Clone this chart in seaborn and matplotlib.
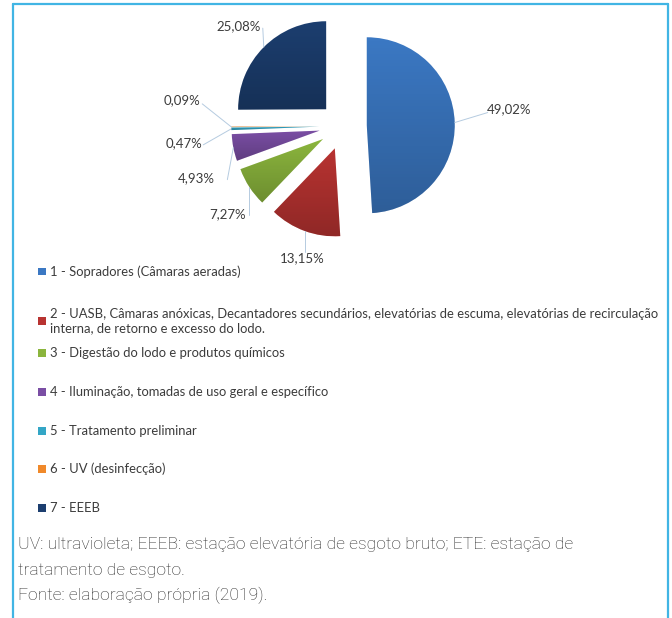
import numpy as np
import matplotlib
matplotlib.use("Agg")
import matplotlib.pyplot as plt
from matplotlib.lines import Line2D
from matplotlib.patches import Rectangle
import seaborn as sns

# ---------------- data ----------------
categories = [
    "1 - Sopradores (Câmaras aeradas)",
    "2 - UASB, Câmaras anóxicas, Decantadores secundários, elevatórias de escuma, elevatórias de recirculação\ninterna, de retorno e excesso do lodo.",
    "3 - Digestão do lodo e produtos químicos",
    "4 - Iluminação, tomadas de uso geral e específico",
    "5 - Tratamento preliminar",
    "6 - UV (desinfecção)",
    "7 - EEEB",
]
shares = [49.02, 13.15, 7.27, 4.93, 0.47, 0.09, 25.08]
share_labels = ["49,02%", "13,15%", "7,27%", "4,93%", "0,47%", "0,09%", "25,08%"]
caption_lines = [
    "UV: ultravioleta; EEEB: estação elevatória de esgoto bruto; ETE: estação de",
    "tratamento de esgoto.",
    "Fonte: elaboração própria (2019).",
]

colors = ["#3b78c3", "#b83331", "#8bb53d", "#7a4ea4", "#33a6c6", "#f0892a", "#1c3e6f"]

# ---------------- style ----------------
sns.set_theme(style="white")
plt.rcParams["font.family"] = ["Lato", "DejaVu Sans"]

W, H = 672, 618
fig = plt.figure(figsize=(W / 100, H / 100), dpi=100)
fig.patch.set_facecolor("white")

ax = fig.add_axes([0, 0, 1, 1])
R = 88
cx, cy = 343, H - 126
explode = [0.27 * R] * len(shares)

wedges, _ = ax.pie(shares, colors=colors, startangle=90, counterclock=False,
                   radius=R, center=(cx, cy), explode=explode,
                   wedgeprops=dict(linewidth=0))
ax.set_xlim(0, W)
ax.set_ylim(0, H)
ax.set_aspect("auto")
ax.axis("off")

# subtle vertical shading inside each wedge
grad = np.linspace(0, 1, 64).reshape(-1, 1)
shade = np.zeros((64, 1, 4))
shade[..., 3] = 0.22 * grad[:, 0:1]
for w in wedges:
    bb = w.get_path().get_extents(w.get_transform() - ax.transData)
    im = ax.imshow(shade, extent=(bb.x0, bb.x1, bb.y0, bb.y1), origin="upper",
                   aspect="auto", zorder=w.get_zorder() + 0.1, interpolation="bilinear")
    im.set_clip_path(w)
ax.set_xlim(0, W)
ax.set_ylim(0, H)

# label offsets (px, y down) from the mid-arc anchor: text centre and leader end
text_off = [(54, -13), (-2, 27), (-22, 27), (-37, 31), (-47, 14), (-49, -27), (-25, -21)]
line_off = [(33, -10), (0, 21), (0, 28), (-6, 32), (-28, 16), (-29, -23), (-1, -19)]
for w, lab, (tx, ty), (lx, ly) in zip(wedges, share_labels, text_off, line_off):
    th = np.deg2rad((w.theta1 + w.theta2) / 2)
    ax_, ay_ = w.center[0] + w.r * np.cos(th), w.center[1] + w.r * np.sin(th)
    ax.plot([ax_, ax_ + lx], [ay_, ay_ - ly], color="#b5cbe0", lw=0.7, zorder=1)
    ax.text(ax_ + tx, ay_ - ty, lab, ha="center", va="center", fontsize=9.5,
            color="#3c3c3c")

# legend (manual rows)
row_y = [272, 321, 353, 392, 431, 469, 508]
for lab, col, y in zip(categories, colors, row_y):
    yy = 1 - y / H
    fig.add_artist(Rectangle((38 / W, yy - 3.5 / H), 7.5 / W, 7.5 / H,
                             transform=fig.transFigure, color=col, lw=0))
    fig.text(50 / W, yy, lab, ha="left", va="center", fontsize=9.4,
             color="#3c3c3c", linespacing=1.2)

# caption
for i, line in enumerate(caption_lines):
    fig.text(18 / W, 1 - (545 + 25 * i) / H, line, ha="left", va="center",
             fontsize=12.6, color="#2a2a2a", fontweight="light",
             family=["Roboto", "DejaVu Sans"])

# frame
bc = "#41b5e4"
fig.add_artist(Line2D([13 / W, 668 / W], [1 - 4 / H, 1 - 4 / H], transform=fig.transFigure, color=bc, lw=1.6))
fig.add_artist(Line2D([13 / W, 13 / W], [1 - 4 / H, 0], transform=fig.transFigure, color=bc, lw=1.6))
fig.add_artist(Line2D([668 / W, 668 / W], [1 - 4 / H, 0], transform=fig.transFigure, color=bc, lw=1.6))

fig.savefig("out.png", dpi=100, facecolor="white")
